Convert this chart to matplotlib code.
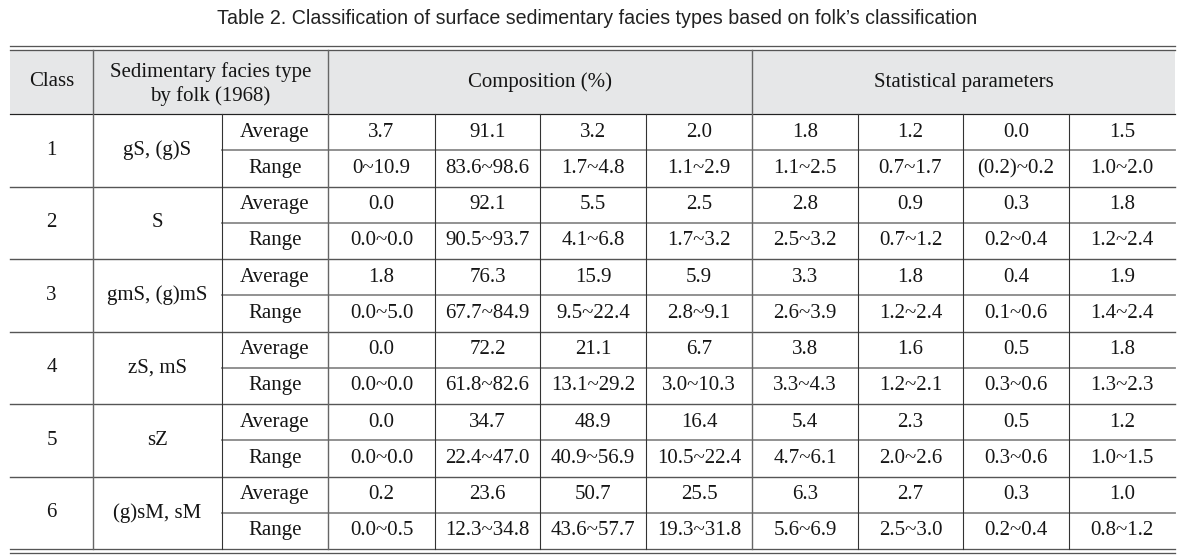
import matplotlib.pyplot as plt
from matplotlib.patches import Rectangle

# table contents
title = "Table 2. Classification of surface sedimentary facies types based on folk\u2019s classification"
classes = ['1', '2', '3', '4', '5', '6']
facies = ['gS, (g)S', 'S', 'gmS, (g)mS', 'zS, mS', 'sZ', '(g)sM, sM']
kinds = ['Average', 'Range']
average = [
    ['3.7', '91.1', '3.2', '2.0', '1.8', '1.2', '0.0', '1.5'],
    ['0.0', '92.1', '5.5', '2.5', '2.8', '0.9', '0.3', '1.8'],
    ['1.8', '76.3', '15.9', '5.9', '3.3', '1.8', '0.4', '1.9'],
    ['0.0', '72.2', '21.1', '6.7', '3.8', '1.6', '0.5', '1.8'],
    ['0.0', '34.7', '48.9', '16.4', '5.4', '2.3', '0.5', '1.2'],
    ['0.2', '23.6', '50.7', '25.5', '6.3', '2.7', '0.3', '1.0'],
]
ranges = [
    ['0~10.9', '83.6~98.6', '1.7~4.8', '1.1~2.9', '1.1~2.5', '0.7~1.7', '(0.2)~0.2', '1.0~2.0'],
    ['0.0~0.0', '90.5~93.7', '4.1~6.8', '1.7~3.2', '2.5~3.2', '0.7~1.2', '0.2~0.4', '1.2~2.4'],
    ['0.0~5.0', '67.7~84.9', '9.5~22.4', '2.8~9.1', '2.6~3.9', '1.2~2.4', '0.1~0.6', '1.4~2.4'],
    ['0.0~0.0', '61.8~82.6', '13.1~29.2', '3.0~10.3', '3.3~4.3', '1.2~2.1', '0.3~0.6', '1.3~2.3'],
    ['0.0~0.0', '22.4~47.0', '40.9~56.9', '10.5~22.4', '4.7~6.1', '2.0~2.6', '0.3~0.6', '1.0~1.5'],
    ['0.0~0.5', '12.3~34.8', '43.6~57.7', '19.3~31.8', '5.6~6.9', '2.5~3.0', '0.2~0.4', '0.8~1.2'],
]
headers = ['Class', 'Sedimentary facies type\nby folk (1968)', 'Composition (%)', 'Statistical parameters']

# layout in pixels
W, H = 1195, 556
left, right = 10, 1175
xs = [10, 93, 222, 328, 435, 540, 646, 752, 858, 963, 1069, 1175]
top1, top2 = 46, 50
head_bot = 114
bot1, bot2 = 549, 553
sub_h = (bot1 - head_bot) / 12.0

fig = plt.figure(figsize=(W / 100, H / 100), dpi=100)
ax = fig.add_axes([0, 0, 1, 1])
ax.set_xlim(0, W)
ax.set_ylim(H, 0)
ax.axis('off')

serif = 'Liberation Serif'
fs = 15
ink = '#151515'
px = 0.72  # one pixel in points

ax.text(W / 2, 18, title, ha='center', va='center', fontsize=14.1,
        family='Liberation Sans', color='#222222')

# header background
ax.add_patch(Rectangle((left, top2), right - left, head_bot - top2,
                       facecolor='#e6e7e8', edgecolor='none'))

# header text
hy = (top2 + head_bot) / 2
ax.text((xs[0] + xs[1]) / 2, hy, headers[0], ha='center', va='center',
        fontsize=fs, family=serif, color=ink)
ax.text((xs[1] + xs[3]) / 2, hy + 2, headers[1], ha='center', va='center',
        fontsize=fs, family=serif, color=ink, linespacing=1.3)
ax.text((xs[3] + xs[7]) / 2, hy, headers[2], ha='center', va='center',
        fontsize=fs, family=serif, color=ink)
ax.text((xs[7] + xs[11]) / 2, hy, headers[3], ha='center', va='center',
        fontsize=fs, family=serif, color=ink)

# body text
for g in range(len(classes)):
    y0 = head_bot + 2 * g * sub_h
    yc = y0 + sub_h
    ax.text((xs[0] + xs[1]) / 2, yc, classes[g], ha='center', va='center',
            fontsize=fs, family=serif, color=ink)
    ax.text((xs[1] + xs[2]) / 2, yc, facies[g], ha='center', va='center',
            fontsize=fs, family=serif, color=ink)
    for k, vals in enumerate([average[g], ranges[g]]):
        yk = y0 + (k + 0.5) * sub_h
        ax.text((xs[2] + xs[3]) / 2, yk, kinds[k], ha='center', va='center',
                fontsize=fs, family=serif, color=ink)
        for c, v in enumerate(vals):
            ax.text((xs[3 + c] + xs[4 + c]) / 2, yk, v, ha='center', va='center',
                    fontsize=fs, family=serif, color=ink)

# horizontal rules
for y in [top1, top2, bot1, bot2]:
    ax.plot([left, right], [y, y], color='#555555', lw=1.3 * px)
ax.plot([left, right], [head_bot, head_bot], color='#222222', lw=1.2 * px)
for g in range(1, 6):
    y = head_bot + 2 * g * sub_h
    ax.plot([left, right], [y, y], color='#555555', lw=1.4 * px)
for g in range(6):
    y = head_bot + (2 * g + 1) * sub_h
    ax.plot([xs[2], right], [y, y], color='#888888', lw=1.8 * px)

# vertical rules
for x in [xs[1], xs[3], xs[7]]:
    ax.plot([x, x], [top2, bot1], color='#666666', lw=1.4 * px)
for x in [xs[2], xs[4], xs[5], xs[6], xs[8], xs[9], xs[10]]:
    ax.plot([x, x], [head_bot, bot1], color='#333333', lw=1.1 * px)

fig.savefig('out.png', dpi=100)
